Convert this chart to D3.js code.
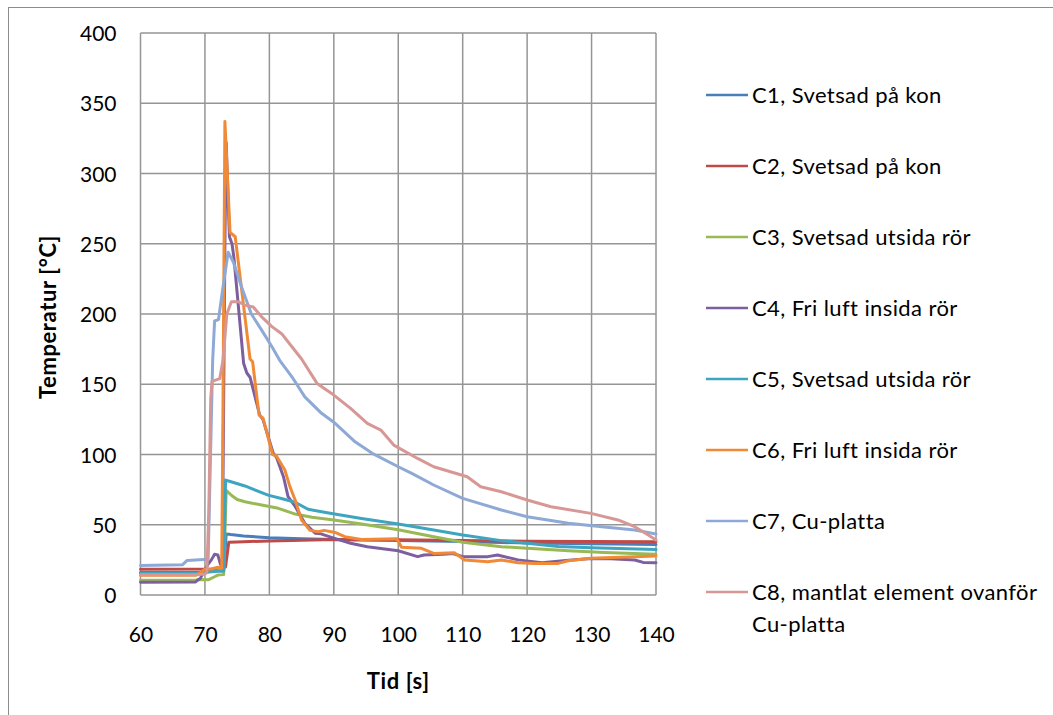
<!DOCTYPE html>
<html>
<head>
<meta charset="utf-8">
<script src="https://cdn.jsdelivr.net/npm/d3@7"></script>
<style>
  html, body { margin: 0; padding: 0; background: #fff; }
  svg { display: block; font-family: Lato, "Open Sans", sans-serif; }
</style>
</head>
<body>
<svg id="chart" width="1053" height="715"></svg>
<script>
// ---- Data (time [s], temperature [°C]) ----
const xTicks = [60, 70, 80, 90, 100, 110, 120, 130, 140];
const yTicks = [0, 50, 100, 150, 200, 250, 300, 350, 400];

const seriesNames = [
  "C1, Svetsad på kon",
  "C2, Svetsad på kon",
  "C3, Svetsad utsida rör",
  "C4, Fri luft insida rör",
  "C5, Svetsad utsida rör",
  "C6, Fri luft insida rör",
  "C7, Cu-platta",
  "C8, mantlat element ovanför Cu-platta"
];
const seriesColors = ["#4A7EBB", "#BE4B48", "#98B954", "#7D5FA0", "#3DA5C0", "#F08A37", "#8EA9D5", "#D79895"];

const c1 = [[60,16],[69,16],[70,16.5],[72,17],[72.9,17],[73.3,43.5],[74,43],[76,42],[80,40.8],[85,40],[90,39.5],[100,38.8],[110,38],[120,37],[130,36.5],[140,36]];
const c2 = [[60,18.3],[71.5,18.5],[72,19.5],[72.8,19],[73.2,20],[73.7,37.5],[75,37.8],[80,38.5],[85,39],[90,39.5],[100,39.3],[110,38.8],[120,38.2],[130,38],[140,37.9]];
const c3 = [[60,10.5],[68.5,10.5],[69,11],[70.5,10.8],[71.5,13],[72,14.2],[72.9,14.5],[73.3,74.5],[74.1,71],[75,68],[76.2,66.4],[78.8,64],[81.4,61.7],[84,57.6],[86.6,55.3],[90,53.4],[94.3,50.5],[100,46.5],[105.5,41.5],[110,37.5],[116,34.4],[120,33.2],[126.4,31.5],[132,30.3],[140,29]];
const c4 = [[60,9],[68.5,9.2],[69.3,12],[70.5,22],[71,25],[71.5,29],[72,28.5],[72.4,22],[72.7,20],[73.1,250],[73.3,322],[73.8,255],[74.2,250],[74.5,240],[76,165],[76.5,158],[77,155],[78.5,128],[79,125],[80.6,101],[81.1,98],[82.2,84],[82.9,70],[84,63],[85.5,51],[87.1,44],[88,43.5],[90,40.5],[92.6,36.8],[95.2,34.4],[100,31.5],[103,27.3],[104,28.5],[107,29],[108.5,29.5],[110,27.3],[113.9,27.3],[115.4,28.5],[118.6,25],[122.3,23],[126,24.5],[129.9,26],[133,25.8],[136.7,24.9],[138,23.2],[140,23]];
const c5 = [[60,15.5],[69,15.5],[70,16],[72,17],[72.9,17],[73.2,81.8],[73.8,81],[76.2,77.6],[79.8,71.1],[82,68.5],[84,66],[86,61],[89.2,58.3],[94.3,54.5],[100,50.6],[105.5,46.2],[110,42.7],[116,38.7],[120,36.8],[124.8,34.6],[130,33.6],[140,32.3]];
const c6 = [[60,14],[68.5,14],[69.3,16],[70,18.3],[71,18.5],[72,19.7],[72.6,19],[72.75,100],[73.1,337],[73.9,258],[74.7,255],[77,168],[77.4,166],[78.4,128],[79,126],[80.5,100],[81.1,99],[82.4,89],[83.2,77],[84,67.6],[85,53.4],[86.3,46],[87.6,45],[88.5,46],[90.2,44.5],[91.7,41.5],[94.3,39.5],[99.8,40],[100.5,34],[103.6,33.2],[105.5,29.6],[108.7,30.1],[110.3,24.9],[113.9,23.7],[116,24.9],[118.6,23],[121.2,22.5],[124.8,22.5],[126.4,24.4],[129.9,26.1],[136.7,27.3],[140,27.7]];
const c7 = [[60,21],[66.5,21.5],[67.2,24.5],[70.5,25.5],[71.2,167],[71.5,195],[72.1,196],[72.8,219],[73.6,244],[74.4,237],[75.7,219],[77.2,200],[78.8,188.5],[80.4,176.7],[81.6,167],[83.5,155.3],[85.5,141],[88.1,129.3],[90,123],[93.3,109],[95.9,101],[100,91.3],[102.1,86.6],[105.5,78.3],[110,68.8],[116,60.5],[120,55.7],[126.4,51],[131.6,48.6],[136.7,46.2],[140,43.4]];
const c8 = [[60,14.5],[69,14.5],[70,15],[70.3,16],[70.6,60],[70.9,140],[71.1,152],[72.3,154],[72.8,167],[73.4,200],[74.1,208.7],[75.2,208.7],[76.2,206.3],[77.5,205],[78.8,198],[80.4,191],[81.9,186],[83.5,176.7],[85,168],[87.4,150.6],[90,142.3],[92.6,132.8],[95.2,122.1],[97.3,117.4],[99.3,106.7],[103,97.2],[105.5,91.3],[108.1,87.7],[110.7,84.2],[112.8,77.1],[116,73.5],[120,67.6],[123.7,62.8],[129.9,58.1],[134.1,53.4],[136.7,48.6],[138.8,42.7],[140,39.1]];

const seriesData = [c1, c2, c3, c4, c5, c6, c7, c8];

// ---- Layout ----
const svg = d3.select("#chart");
const pLeft = 140.5, pRight = 656, pTop = 33, pBottom = 595;
const x = d3.scaleLinear().domain([60, 140]).range([pLeft, pRight]);
const y = d3.scaleLinear().domain([0, 400]).range([pBottom, pTop]);

svg.append("rect").attr("width", 1053).attr("height", 715).attr("fill", "#fff");
// outer chart border
svg.append("rect").attr("x", 8.5).attr("y", 7.5).attr("width", 1200).attr("height", 900)
  .attr("fill", "none").attr("stroke", "#8c8c8c").attr("stroke-width", 1);

const gridColor = "#959595";
const grid = svg.append("g");
grid.selectAll("line.v").data(xTicks).join("line").attr("class", "v")
  .attr("x1", d => x(d)).attr("x2", d => x(d)).attr("y1", pTop).attr("y2", pBottom)
  .attr("stroke", gridColor).attr("stroke-width", 1.5);
grid.selectAll("line.h").data(yTicks).join("line").attr("class", "h")
  .attr("x1", pLeft).attr("x2", pRight).attr("y1", d => y(d)).attr("y2", d => y(d))
  .attr("stroke", gridColor).attr("stroke-width", 1.5);

// axes (labels only)
const fontSize = 21;
const yAxis = svg.append("g").attr("transform", `translate(${pLeft},0)`)
  .call(d3.axisLeft(y).tickValues(yTicks).tickSize(0).tickPadding(24));
const xAxis = svg.append("g").attr("transform", `translate(0,${pBottom})`)
  .call(d3.axisBottom(x).tickValues(xTicks).tickSize(0).tickPadding(0));
[yAxis, xAxis].forEach(g => {
  g.select(".domain").remove();
  g.selectAll("text").attr("font-family", "Lato, sans-serif").attr("font-size", fontSize).attr("fill", "#000");
});
yAxis.selectAll("text").attr("dy", "0.36em");
xAxis.selectAll("text").attr("y", 39.5).attr("dy", "0.36em");

// axis titles
svg.append("text").attr("transform", `translate(48,${(pTop + pBottom) / 2 + 3}) rotate(-90)`)
  .attr("text-anchor", "middle").attr("dy", "0.36em").attr("letter-spacing", "0.6px")
  .attr("font-size", 22).attr("font-weight", "bold").text("Temperatur [°C]");
svg.append("text").attr("x", (pLeft + pRight) / 2).attr("y", 681).attr("dy", "0.36em")
  .attr("letter-spacing", "0.6px")
  .attr("text-anchor", "middle").attr("font-size", 22).attr("font-weight", "bold").text("Tid [s]");

// lines
const line = d3.line().x(d => x(d[0])).y(d => y(d[1]));
const plot = svg.append("g");
seriesData.forEach((s, i) => {
  plot.append("path").datum(s).attr("d", line)
    .attr("fill", "none").attr("stroke", seriesColors[i]).attr("stroke-width", 3)
    .attr("stroke-linejoin", "round").attr("stroke-linecap", "round");
});

// legend
const legY0 = 95, legStep = 71, legFont = 22;
const leg = svg.append("g");
seriesNames.forEach((name, i) => {
  const yy = legY0 + i * legStep;
  leg.append("line").attr("x1", 706).attr("x2", 748).attr("y1", yy).attr("y2", yy)
    .attr("stroke", seriesColors[i]).attr("stroke-width", 2.5);
  const t = leg.append("text").attr("x", 752).attr("y", yy).attr("dy", "0.36em")
    .attr("letter-spacing", "0.4px").attr("font-size", legFont).attr("fill", "#000");
  if (i === 7) {
    t.text("C8, mantlat element ovanför");
    leg.append("text").attr("x", 752).attr("y", yy + 32).attr("dy", "0.36em")
      .attr("letter-spacing", "0.4px")
      .attr("font-size", legFont).attr("fill", "#000").text("Cu-platta");
  } else {
    t.text(name);
  }
});
</script>
</body>
</html>
